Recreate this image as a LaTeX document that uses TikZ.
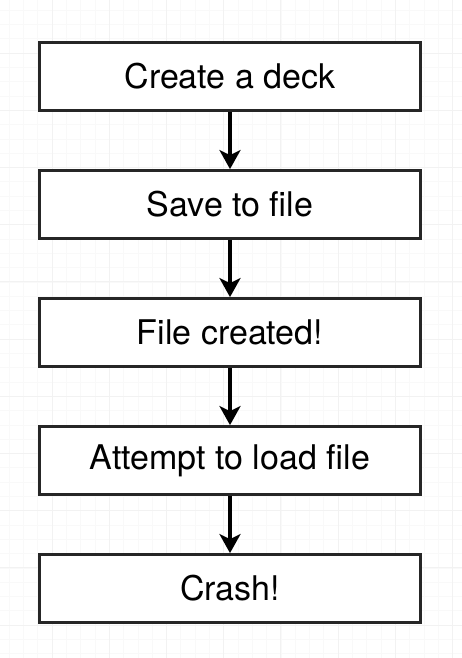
\documentclass[tikz,border=0pt]{standalone}
\usepackage{fontspec}
\setmainfont{TeX Gyre Heros}
\usetikzlibrary{positioning}
\usetikzlibrary{arrows.meta}
\tikzset{>=latex}

\begin{document}
\begin{tikzpicture}[x=1pt, y=-1pt]
  % --- Definitions ---
  \def\G{14.3} % grid spacing (minor)
  \useasboundingbox[fill=white] (0,0) rectangle (462,658);

  % --- 1. Background grid ---
  \foreach \i in {0,...,33} {
    \draw[gray!5, line width=0.6pt] ({52+\G*(\i-3)},0) -- ++(0,658);
  }
  \foreach \i in {0,...,48} {
    \draw[gray!5, line width=0.6pt] (0,{53+\G*(\i-3)}) -- ++(462,0);
  }
  \foreach \i in {0,...,8} {
    \draw[gray!10, line width=0.8pt] ({52+4*\G*(\i-1)},0) -- ++(0,658);
  }
  \foreach \i in {0,...,12} {
    \draw[gray!10, line width=0.8pt] (0,{53+4*\G*(\i-1)}) -- ++(462,0);
  }

  % --- 2. Steps ---
  \tikzset{
    stepbox/.style={draw=black!85, fill=white, line width=2.8pt,
      minimum width=381pt, minimum height=68pt, inner sep=0pt,
      font=\fontsize{34}{40}\selectfont},
    flow/.style={-{Stealth[length=19pt, width=21pt, inset=5pt]}, line width=3.2pt, black}
  }
  \node[stepbox] (create) at (230,76.5) {Create a deck};
  \node[stepbox, below=57.2pt of create] (save) {Save to file};
  \node[stepbox, below=57.2pt of save] (created) {File created!};
  \node[stepbox, below=57.2pt of created] (load) {Attempt to load file};
  \node[stepbox, below=57.2pt of load] (crash) {Crash!};

  % --- 3. Arrows ---
  \draw[flow] (create) -- (save);
  \draw[flow] (save) -- (created);
  \draw[flow] (created) -- (load);
  \draw[flow] (load) -- (crash);
\end{tikzpicture}
\end{document}
